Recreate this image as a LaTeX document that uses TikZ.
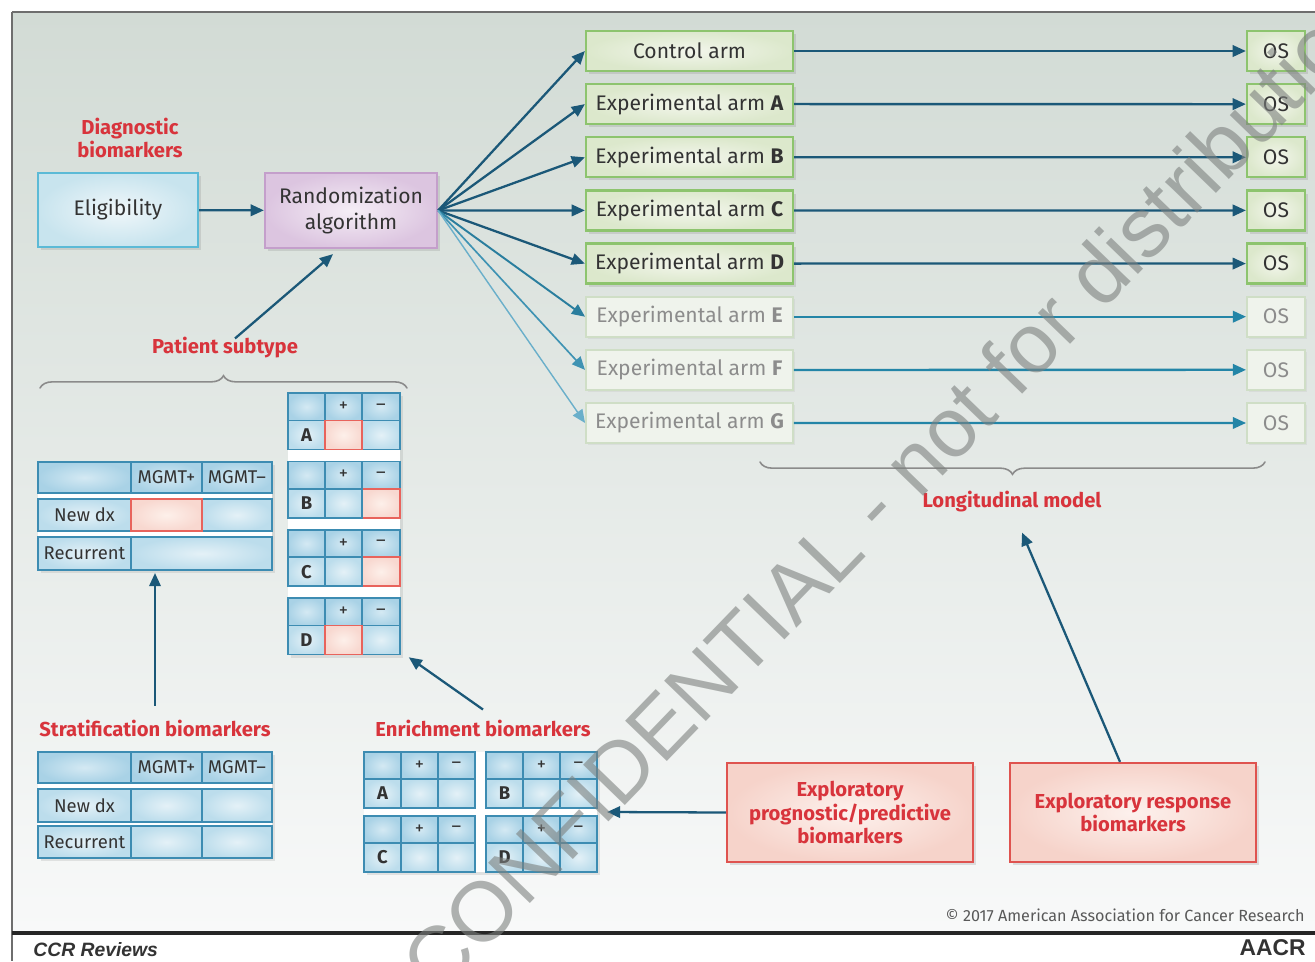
\documentclass[tikz,border=0pt]{standalone}
\usepackage{fontspec}
\setmainfont{Fira Sans}
\newfontfamily\wmfont{Liberation Sans}
\usetikzlibrary{arrows.meta,shadows,decorations.pathreplacing,calc}

\definecolor{bgtop}{HTML}{D2DBD5}
\definecolor{bgbot}{HTML}{F8F9F9}
\definecolor{framegray}{HTML}{6E6E6E}
\definecolor{tealA}{HTML}{1B5878}
\definecolor{tealB}{HTML}{2A7E9E}
\definecolor{tealC}{HTML}{3F93B3}
\definecolor{tealD}{HTML}{6AAFCA}
\definecolor{tealH}{HTML}{2385A7}
\definecolor{redlab}{HTML}{D8343C}
\definecolor{txt}{HTML}{333333}
\definecolor{grnline}{HTML}{8DC46E}
\definecolor{grnin}{HTML}{F3F6EC}
\definecolor{grnout}{HTML}{DCE8CC}
\definecolor{fadeline}{HTML}{CFDEC6}
\definecolor{fadefill}{HTML}{EFF3EC}
\definecolor{fadetxt}{HTML}{8C8C8C}
\definecolor{eligline}{HTML}{5CBAD6}
\definecolor{eligin}{HTML}{F0F7FA}
\definecolor{eligout}{HTML}{C8E4EE}
\definecolor{randline}{HTML}{C49FCB}
\definecolor{randin}{HTML}{F5EEF6}
\definecolor{randout}{HTML}{DCC5E0}
\definecolor{exline}{HTML}{DF534F}
\definecolor{exin}{HTML}{FDF1ED}
\definecolor{exout}{HTML}{F6D3CA}
\definecolor{cellline}{HTML}{3D8CB2}
\definecolor{cellin}{HTML}{E4F1F7}
\definecolor{cellout}{HTML}{BCDDEC}
\definecolor{hdrin}{HTML}{D4E9F3}
\definecolor{hdrout}{HTML}{A9D2E6}
\definecolor{redline}{HTML}{E8635C}
\definecolor{redin}{HTML}{FDF0EA}
\definecolor{redout}{HTML}{F8D8D0}
\definecolor{wmgray}{HTML}{7D817F}

\tikzset{
  shadowed/.style={drop shadow={opacity=0.22,shadow xshift=1.6pt,shadow yshift=-1.8pt}},
  boxtext/.style={text=txt,font=\fontsize{12}{14.5}\selectfont,align=center,inner sep=0pt},
  eligbox/.style={boxtext,shadowed,draw=eligline,line width=1.3pt,inner color=eligin,outer color=eligout,
    minimum width=3.2cm,minimum height=1.48cm},
  randbox/.style={boxtext,shadowed,draw=randline,line width=1.3pt,inner color=randin,outer color=randout,
    minimum width=3.44cm,minimum height=1.5cm},
  armon/.style={boxtext,shadowed,draw=grnline,line width=1.3pt,inner color=grnin,outer color=grnout,
    minimum width=4.14cm,minimum height=0.8cm},
  armoff/.style={boxtext,text=fadetxt,draw=fadeline,line width=1.1pt,fill=fadefill,
    minimum width=4.14cm,minimum height=0.8cm,drop shadow={opacity=0.1,shadow xshift=1.4pt,shadow yshift=-1.4pt}},
  oson/.style={armon,minimum width=1.16cm},
  osoff/.style={armoff,minimum width=1.16cm},
  exbox/.style={shadowed,draw=exline,line width=1.3pt,inner color=exin,outer color=exout,
    minimum width=4.92cm,minimum height=1.98cm,text=redlab,align=center,
    font=\bfseries\fontsize{11.5}{13.6}\selectfont,inner sep=0pt},
  redlabel/.style={text=redlab,font=\bfseries\fontsize{11.5}{13.6}\selectfont,align=center,inner sep=1pt},
  cell/.style={draw=cellline,line width=0.9pt,inner color=cellin,outer color=cellout,inner sep=0pt,
    text=txt,font=\fontsize{10.5}{12}\selectfont},
  hcell/.style={cell,inner color=hdrin,outer color=hdrout},
  redcell/.style={cell,draw=redline,line width=1.1pt,inner color=redin,outer color=redout},
  tabletter/.style={font=\bfseries\fontsize{10.5}{12}\selectfont},
  link/.style={draw=tealA,line width=1.3pt,-{Triangle[length=7.5pt,width=6.5pt]}},
  bracket/.style={draw=framegray!80,line width=0.9pt,line cap=round,decorate,
    decoration={brace,amplitude=7pt}},
  tablebg/.style={fill=white,drop shadow={opacity=0.18,shadow xshift=1.6pt,shadow yshift=-1.8pt}},
}

% table cell spanning (x1,y1)-(x2,y2): style, name, x1, y1, x2, y2, text
\newcommand\tcell[7]{%
  \pgfmathsetmacro\tcw{((#5)-(#3))*0.02}%
  \pgfmathsetmacro\tch{((#6)-(#4))*0.02}%
  \node[#1,minimum width=\tcw cm,minimum height=\tch cm] (#2) at ({((#3)+(#5))/2},{((#4)+(#6))/2}) {#7};%
}

\begin{document}
\begin{tikzpicture}[x=0.02cm,y=-0.02cm]
\useasboundingbox (0,0) rectangle (1315,961);
\fill[white] (0,0) rectangle (1315,961);
% panel background and frame
\shade[top color=bgtop,bottom color=bgbot] (12,12) rectangle (1315,933);
\draw[framegray,line width=1.7pt] (12,12) -- (1315,12);
\draw[framegray,line width=1.7pt] (12,12) -- (12,961);
\draw[black!85,line width=2.2pt] (12,933) -- (1315,933);

% entry of the trial
\node[redlabel] (diag) at (130,138) {Diagnostic\\biomarkers};
\node[eligbox] (elig) at (118,210) {Eligibility};
\node[randbox] (rand) at (351,210.5) {Randomization\\algorithm};
\draw[link] (elig) -- (rand);

% treatment arms and outcomes
\node[armon] (arm0) at (689.5,51) {Control arm};
\node[armon] (arm1) at (689.5,104.1) {Experimental arm \textbf{A}};
\node[armon] (arm2) at (689.5,157.3) {Experimental arm \textbf{B}};
\node[armon] (arm3) at (689.5,210.4) {Experimental arm \textbf{C}};
\node[armon] (arm4) at (689.5,263.6) {Experimental arm \textbf{D}};
\node[armoff] (arm5) at (689.5,316.7) {Experimental arm \textbf{E}};
\node[armoff] (arm6) at (689.5,369.9) {Experimental arm \textbf{F}};
\node[armoff] (arm7) at (689.5,423) {Experimental arm \textbf{G}};
\foreach \k in {0,...,4} {\node[oson] (os\k) at (1276,51+53.14*\k) {OS};}
\foreach \k in {5,6,7} {\node[osoff] (os\k) at (1276,51+53.14*\k) {OS};}

\foreach \k in {0,...,4} {
  \draw[link] (rand.east) -- (arm\k.west);
  \draw[link] (arm\k.east) -- (os\k.west);
}
\draw[link,draw=tealB,line width=1.1pt] (rand.east) -- (arm5.west);
\draw[link,draw=tealC,line width=0.95pt] (rand.east) -- (arm6.west);
\draw[link,draw=tealD,line width=0.8pt] (rand.east) -- (arm7.west);
\foreach \k in {5,6,7} {\draw[link,draw=tealH] (arm\k.east) -- (os\k.west);}

% longitudinal model
\coordinate (lbA) at (1265,462);
\coordinate (lbB) at (760,462);
\draw[bracket] (lbA) -- (lbB);
\node[redlabel] (longm) at (1012,502) {Longitudinal model};

% patient subtype
\node[redlabel] (psub) at (225,348) {Patient subtype};
\draw[link] ($(psub.north)+(10,3)$) -- ($(rand.south)+(-18,5)$);
\coordinate (pbA) at (40,388);
\coordinate (pbB) at (407,388);
\draw[bracket] (pbA) -- (pbB);

% stratification table (upper)
\fill[tablebg] (38,462) rectangle (272,570);
\tcell{hcell}{sa00}{38}{462}{131}{493}{}
\tcell{hcell}{sa01}{131}{462}{202}{493}{MGMT+}
\tcell{hcell}{sa02}{202}{462}{272}{493}{MGMT–}
\tcell{cell}{sa10}{38}{499}{131}{531}{New dx}
\tcell{cell}{sa12}{202}{499}{272}{531}{}
\tcell{redcell}{sa11}{131}{499}{202}{531}{}
\tcell{cell}{sa20}{38}{537}{131}{570}{Recurrent}
\tcell{cell}{sa21}{131}{537}{272}{570}{}

% stratification table (lower)
\fill[tablebg] (38,752) rectangle (272,858);
\tcell{hcell}{sb00}{38}{752}{131}{783}{}
\tcell{hcell}{sb01}{131}{752}{202}{783}{MGMT+}
\tcell{hcell}{sb02}{202}{752}{272}{783}{MGMT–}
\tcell{cell}{sb10}{38}{789}{131}{822}{New dx}
\tcell{cell}{sb11}{131}{789}{202}{822}{}
\tcell{cell}{sb12}{202}{789}{272}{822}{}
\tcell{cell}{sb20}{38}{826}{131}{858}{Recurrent}
\tcell{cell}{sb21}{131}{826}{202}{858}{}
\tcell{cell}{sb22}{202}{826}{272}{858}{}
\node[redlabel] (strat) at (155,728) {Stratification biomarkers};
\draw[link] ($(strat.north)+(0,-12)$) -- (155,573);

% enrichment stack (upper)
\fill[tablebg] (288,393) rectangle (400,655);
\foreach \L/\yy/\sp/\sm in {A/393/redcell/cell,B/461.3/cell/redcell,C/529.7/cell/redcell,D/598/redcell/cell} {
  \tcell{hcell}{e\L-h0}{288}{\yy}{325}{\yy+27.5}{}
  \tcell{hcell}{e\L-h1}{325}{\yy}{362}{\yy+27.5}{+}
  \tcell{hcell}{e\L-h2}{362}{\yy}{400}{\yy+27.5}{–}
  \tcell{cell,tabletter}{e\L-r0}{288}{\yy+27.5}{325}{\yy+56.5}{\L}
  \tcell{\sm}{e\L-r2}{362}{\yy+27.5}{400}{\yy+56.5}{}
  \tcell{\sp}{e\L-r1}{325}{\yy+27.5}{362}{\yy+56.5}{}
}

% enrichment grid (lower)
\fill[tablebg] (364,752) rectangle (597,872);
\foreach \L/\xx/\yy in {A/364/752,B/486/752,C/364/816,D/486/816} {
  \tcell{hcell}{g\L-h0}{\xx}{\yy}{\xx+37}{\yy+27}{}
  \tcell{hcell}{g\L-h1}{\xx+37}{\yy}{\xx+74}{\yy+27}{+}
  \tcell{hcell}{g\L-h2}{\xx+74}{\yy}{\xx+111}{\yy+27}{–}
  \tcell{cell,tabletter}{g\L-r0}{\xx}{\yy+27}{\xx+37}{\yy+56}{\L}
  \tcell{cell}{g\L-r1}{\xx+37}{\yy+27}{\xx+74}{\yy+56}{}
  \tcell{cell}{g\L-r2}{\xx+74}{\yy+27}{\xx+111}{\yy+56}{}
}
\node[redlabel] (enr) at (483,728) {Enrichment biomarkers};
\draw[link] ($(enr.north)+(0,-8)$) -- ($(eD-r2.south east)+(8,2)$);

% exploratory biomarkers
\node[exbox] (exprog) at (850,812.5) {Exploratory\\prognostic/predictive\\biomarkers};
\node[exbox] (exresp) at (1133,812.5) {Exploratory response\\biomarkers};
\coordinate (gridpt) at (607,812);
\draw[link] (exprog.west) -- (gridpt);
\draw[link] ($(exresp.north)+(-13,0)$) -- ($(longm.south)+(10,18)$);

% credits
\node[text=black!65,font=\fontsize{9.2}{11}\selectfont,anchor=east,inner sep=0pt] (copy) at (1305,915)
  {© 2017 American Association for Cancer Research};
\node[text=black!80,font=\wmfont\bfseries\itshape\fontsize{11}{13}\selectfont,anchor=west,inner sep=0pt] (ccr) at (33,950) {CCR Reviews};
\node[text=black!80,font=\wmfont\bfseries\fontsize{13}{15}\selectfont,anchor=east,inner sep=0pt] (aacr) at (1306,948) {AACR};

% watermark
\node[text=wmgray,text opacity=0.6,font=\wmfont\fontsize{48}{50}\selectfont,rotate=46,inner sep=0pt] (wmark)
  at (890,488) {CONFIDENTIAL - not for distribution};
\end{tikzpicture}
\end{document}
